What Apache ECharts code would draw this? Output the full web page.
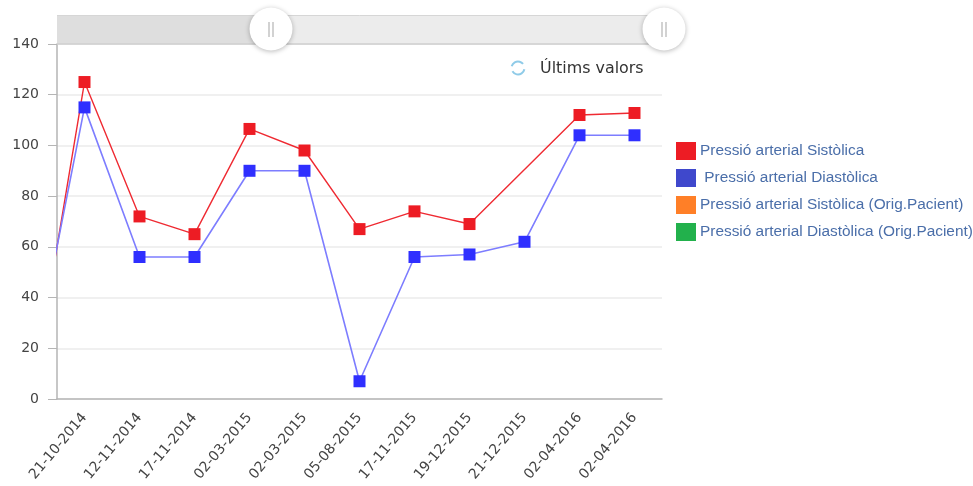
<!DOCTYPE html>
<html>
<head>
<meta charset="utf-8">
<style>
  html, body { margin: 0; padding: 0; background: #fff; }
  #chart { width: 973px; height: 486px; }
</style>
<script src="https://cdn.jsdelivr.net/npm/echarts@6/dist/echarts.min.js"></script>
</head>
<body>
<div id="chart"></div>
<script>
// one older date sits left of the window, only its line segment shows
const hiddenDates = [''];
const dates = ['21-10-2014', '12-11-2014', '17-11-2014', '02-03-2015', '02-03-2015', '05-08-2015',
  '17-11-2015', '19-12-2015', '21-12-2015', '02-04-2016', '02-04-2016'];
const categories = hiddenDates.concat(dates);

const hiddenSystolic = [-5];
const hiddenDiastolic = [5];
const systolic = [125, 72, 65, 106.5, 98, 67, 74, 69, null, 112, 112.8];
const diastolic = [115, 56, 56, 90, 90, 7, 56, 57, 62, 104, 104];
const systolicPatient = [];
const diastolicPatient = [];

const yTicks = { min: 0, max: 140, interval: 20 };
const names = ['Pressió arterial Sistòlica', 'Pressió arterial Diastòlica',
  'Pressió arterial Sistòlica (Orig.Pacient)', 'Pressió arterial Diastòlica (Orig.Pacient)'];
const legendColors = ['#ed1c24', '#3f48cc', '#ff7f27', '#22b14c'];

const chart = echarts.init(document.getElementById('chart'));

const labelFont = 'DejaVu Sans';

// scrollbar on top of the plot
function scrollHandle(x) {
  const bar = dx => ({
    type: 'line', z: 100, silent: true,
    shape: { x1: x + dx, y1: 22, x2: x + dx, y2: 37 },
    style: { stroke: '#b4b4b4', lineWidth: 1.2 }
  });
  return [
    {
      type: 'circle', z: 95, silent: true,
      shape: { cx: x, cy: 29, r: 21.5 },
      style: { fill: '#fff', shadowBlur: 5, shadowColor: 'rgba(0,0,0,0.28)', shadowOffsetY: 1 }
    },
    bar(-2), bar(2)
  ];
}

chart.setOption({
  animation: false,
  backgroundColor: '#fff',
  grid: { left: 57, right: 311, top: 44, bottom: 87, containLabel: false },
  xAxis: {
    type: 'category',
    data: categories,
    boundaryGap: true,
    axisLine: { lineStyle: { color: '#b5b5b5', width: 1.5 } },
    axisTick: { alignWithLabel: true, length: 6, lineStyle: { color: '#c0c0c0' } },
    axisLabel: { interval: 0, rotate: 50, color: '#444', fontFamily: labelFont, fontSize: 14, margin: 16 },
    splitLine: { show: false }
  },
  yAxis: {
    type: 'value',
    min: yTicks.min,
    max: yTicks.max,
    interval: yTicks.interval,
    axisLine: { show: true, lineStyle: { color: '#b5b5b5', width: 1.5 } },
    axisTick: { show: true, length: 9, lineStyle: { color: '#b5b5b5' } },
    axisLabel: { color: '#444', fontFamily: labelFont, fontSize: 14, margin: 18, padding: [6, 0, 0, 0] },
    splitLine: { lineStyle: { color: '#ebebeb', width: 1.5 } }
  },
  dataZoom: [{
    type: 'inside',
    xAxisIndex: 0,
    filterMode: 'none',
    startValue: hiddenDates.length,
    endValue: categories.length - 1,
    zoomLock: true
  }],
  legend: {
    orient: 'vertical',
    left: 676,
    top: 142,
    padding: 0,
    itemWidth: 20,
    itemHeight: 18,
    itemGap: 9,
    icon: 'rect',
    selectedMode: false,
    data: names.map((name, i) => ({ name, itemStyle: { color: legendColors[i] } })),
    formatter: name => (name === names[1] ? ' ' + name : name),
    textStyle: { color: '#4a6ea9', fontFamily: 'Liberation Sans', fontSize: 15.4, padding: [0, 0, 0, -1] }
  },
  graphic: [
    { type: 'rect', z: 90, silent: true, shape: { x: 57, y: 15, width: 214, height: 29 }, style: { fill: '#dedede' } },
    { type: 'rect', z: 90, silent: true, shape: { x: 271, y: 15, width: 391, height: 29 }, style: { fill: '#ececec' } },
    { type: 'line', z: 91, silent: true, shape: { x1: 57, y1: 15.5, x2: 662, y2: 15.5 }, style: { stroke: '#d6d6d6', lineWidth: 1 } },
    { type: 'line', z: 91, silent: true, shape: { x1: 57, y1: 44, x2: 662, y2: 44 }, style: { stroke: '#cfcfcf', lineWidth: 1.5 } },
    ...scrollHandle(271),
    ...scrollHandle(664),
    {
      type: 'arc', z: 100, silent: true,
      shape: { cx: 518, cy: 68, r: 6.5, startAngle: 3.4, endAngle: 5.6 },
      style: { stroke: '#8fcbe8', lineWidth: 2, fill: null }
    },
    {
      type: 'arc', z: 100, silent: true,
      shape: { cx: 518, cy: 68, r: 6.5, startAngle: 0.2, endAngle: 2.6 },
      style: { stroke: '#8fcbe8', lineWidth: 2, fill: null }
    },
    {
      type: 'text', z: 100, silent: true,
      x: 540, y: 69,
      style: { text: 'Últims valors', fill: '#333', font: '15.9px "DejaVu Sans"', textVerticalAlign: 'middle' }
    }
  ],
  series: [
    {
      name: names[0],
      type: 'line',
      data: hiddenSystolic.concat(systolic),
      connectNulls: true,
      symbol: 'rect',
      symbolSize: 12,
      showAllSymbol: true,
      itemStyle: { color: '#ed1c24' },
      lineStyle: { color: '#ef2a32', width: 1.4 },
      z: 3
    },
    {
      name: names[1],
      type: 'line',
      data: hiddenDiastolic.concat(diastolic),
      connectNulls: true,
      symbol: 'rect',
      symbolSize: 12,
      showAllSymbol: true,
      itemStyle: { color: '#2f2fff' },
      lineStyle: { color: '#7d7dff', width: 1.6 },
      z: 4
    },
    { name: names[2], type: 'line', data: systolicPatient },
    { name: names[3], type: 'line', data: diastolicPatient }
  ]
});
</script>
</body>
</html>
